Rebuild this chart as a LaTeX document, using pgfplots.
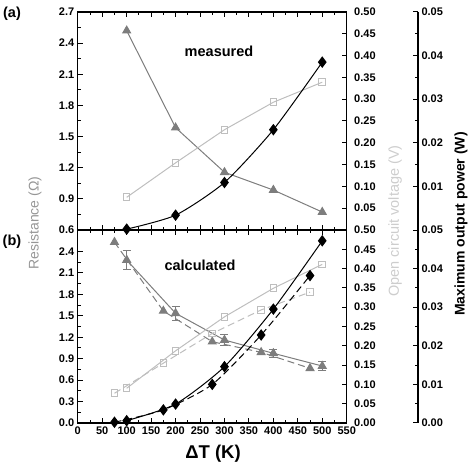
\documentclass[border=0pt]{standalone}
\usepackage{fontspec}
\setmainfont{Liberation Sans}
\usepackage{pgfplots}
\pgfplotsset{compat=1.18}
\definecolor{rgray}{RGB}{125,125,125}
\definecolor{vgray}{RGB}{190,190,190}
\definecolor{rlab}{RGB}{150,150,150}
\definecolor{vlab}{RGB}{205,205,205}
\pgfplotsset{
 base/.style={scale only axis, width=268.9pt, xmin=0, xmax=550,
   scaled y ticks=false, scaled x ticks=false,
   axis line style={line width=1.1pt}, tick style={line width=1pt, black},
   major tick length=5pt, minor tick length=3pt, tick align=inside,
   ticklabel style={font=\bfseries\fontsize{11}{11}\selectfont},
   every axis plot/.append style={line width=1pt}, clip=false},
 tri/.style={rgray, mark=triangle*, mark size=4.5pt, mark options={solid, fill=rgray}},
 sq/.style={vgray, mark=square, mark size=3.3pt, mark options={solid, fill=white}},
 dia/.style={black, mark=diamond*, mark size=5pt, mark options={solid, fill=black}},
 dsh/.style={dash pattern=on 7pt off 4pt},
}
\begin{document}
\begin{tikzpicture}
\useasboundingbox (0,0) rectangle (471pt,468pt);
% ---------------- top panel -----------------
\begin{axis}[base, at={(77.8pt,238pt)}, anchor=south west, height=218pt,
  ymin=0.6, ymax=2.7, ytick={0.6,0.9,1.2,1.5,1.8,2.1,2.4,2.7},
  yticklabels={0.6,0.9,1.2,1.5,1.8,2.1,2.4,2.7}, minor y tick num=1,
  xtick={0,50,100,150,200,250,300,350,400,450,500,550}, xticklabels={}, minor x tick num=1,
  xtick pos=both, ytick pos=left]
\addplot[tri] coordinates {(100,2.52) (200,1.586) (300,1.156) (400,0.985) (500,0.773)};
\end{axis}
\begin{axis}[base, at={(77.8pt,238pt)}, anchor=south west, height=218pt,
  ymin=0, ymax=0.5, axis y line*=right, hide x axis,
  ytick={0.05,0.1,0.15,0.2,0.25,0.3,0.35,0.4,0.45,0.5},
  yticklabels={0.05,0.10,0.15,0.20,0.25,0.30,0.35,0.40,0.45,0.50},
  yticklabel style={xshift=4pt}]
\addplot[sq] coordinates {(100,0.075) (200,0.154) (300,0.230) (400,0.293) (500,0.339)};
\end{axis}
\begin{axis}[base, at={(77.8pt,238pt)}, anchor=south west, height=218pt,
  ymin=0, ymax=0.05, hide x axis, hide y axis]
\addplot[dia, smooth, tension=0.4] coordinates {(100,0.0002) (200,0.0034) (300,0.0109) (400,0.0230) (500,0.0385)};
\end{axis}
\begin{axis}[base, at={(149.1pt,238pt)}, anchor=south west, height=218pt,
  ymin=0, ymax=0.05, axis y line*=right, hide x axis,
  ytick={0.01,0.02,0.03,0.04,0.05}, yticklabels={0.01,0.02,0.03,0.04,0.05},
  minor y tick num=1]
\end{axis}
% ---------------- bottom panel -----------------
\begin{axis}[base, at={(77.8pt,45pt)}, anchor=south west, height=193pt,
  ymin=0, ymax=2.7, ytick={0,0.3,0.6,0.9,1.2,1.5,1.8,2.1,2.4},
  yticklabels={0.0,0.3,0.6,0.9,1.2,1.5,1.8,2.1,2.4}, minor y tick num=1,
  extra y ticks={2.7}, extra y tick labels={},
  xtick={0,50,100,150,200,250,300,350,400,450,500,550},
  xticklabels={0,50,100,150,200,250,300,350,400,450,500,550}, minor x tick num=1,
  xtick pos=both, xticklabel pos=bottom, ytick pos=left]
\addplot[tri, error bars/.cd, y dir=both, y explicit,
  error bar style={line width=1pt, rgray, solid},
  error mark options={rotate=90, mark size=4pt, line width=1pt, rgray}]
  coordinates {(100,2.28) +- (0,0.13) (200,1.535) +- (0,0.10) (300,1.161) +- (0,0.08) (400,0.975) +- (0,0.06) (500,0.797) +- (0,0.06)};
\addplot[tri, dsh] coordinates {(75,2.53) (175,1.567) (275,1.137) (375,0.989) (475,0.765)};
\end{axis}
\begin{axis}[base, at={(77.8pt,45pt)}, anchor=south west, height=193pt,
  ymin=0, ymax=0.5, axis y line*=right, hide x axis,
  ytick={0,0.05,0.1,0.15,0.2,0.25,0.3,0.35,0.4,0.45,0.5},
  yticklabels={0.00,0.05,0.10,0.15,0.20,0.25,0.30,0.35,0.40,0.45,0.50},
  yticklabel style={xshift=4pt}]
\addplot[sq] coordinates {(100,0.090) (200,0.187) (300,0.275) (400,0.349) (500,0.411)};
\addplot[sq, dsh] coordinates {(75,0.077) (175,0.155) (275,0.232) (375,0.293) (475,0.339)};
\end{axis}
\begin{axis}[base, at={(77.8pt,45pt)}, anchor=south west, height=193pt,
  ymin=0, ymax=0.05, hide x axis, hide y axis]
\addplot[dia, smooth, tension=0.4] coordinates {(100,0.0006) (200,0.0049) (300,0.0146) (400,0.0295) (500,0.0472)};
\addplot[dia, dsh, smooth, tension=0.4] coordinates {(75,0.0002) (175,0.0034) (275,0.0100) (375,0.0228) (475,0.0382)};
\end{axis}
\begin{axis}[base, at={(149.1pt,45pt)}, anchor=south west, height=193pt,
  ymin=0, ymax=0.05, axis y line*=right, hide x axis,
  ytick={0,0.01,0.02,0.03,0.04,0.05}, yticklabels={0.00,0.01,0.02,0.03,0.04,0.05},
  minor y tick num=1]
\end{axis}
% ---------------- texts -----------------
\node[font=\bfseries\fontsize{14.5}{14.5}\selectfont] at (12pt,454pt) {(a)};
\node[font=\bfseries\fontsize{14.5}{14.5}\selectfont] at (12pt,226pt) {(b)};
\node[font=\bfseries\fontsize{14.5}{14.5}\selectfont] at (219pt,417pt) {measured};
\node[font=\bfseries\fontsize{14.5}{14.5}\selectfont] at (200pt,203pt) {calculated};
\node[rotate=90, text=rlab, font=\fontsize{14}{14}\selectfont] at (35pt,245pt) {Resistance (Ω)};
\node[rotate=90, text=vlab, font=\fontsize{14.5}{14.5}\selectfont] at (395pt,247pt) {Open circuit voltage (V)};
\node[rotate=90, font=\bfseries\fontsize{14}{14}\selectfont] at (461pt,244pt) {Maximum output power (W)};
\node[font=\bfseries\fontsize{18.5}{18.5}\selectfont] at (213pt,14.5pt) {ΔT (K)};
\end{tikzpicture}
\end{document}
